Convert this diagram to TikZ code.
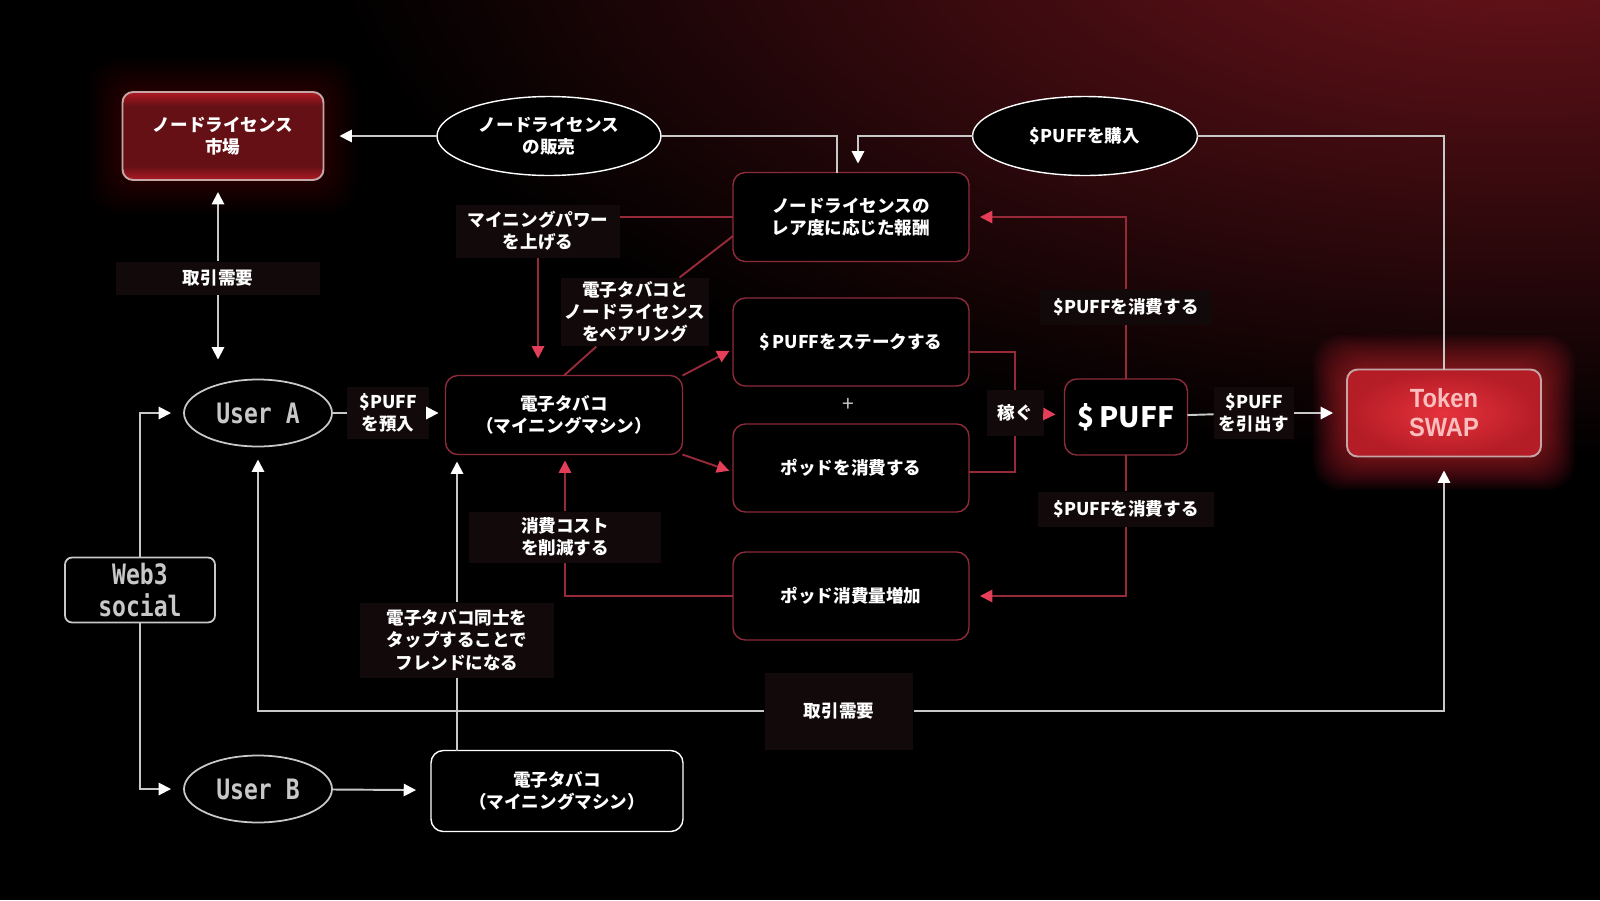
\documentclass[tikz,border=0pt]{standalone}
\usepackage{fontspec}
\setmainfont{Noto Sans CJK JP}
\newfontfamily\monofont{DejaVu Sans Mono}[FakeStretch=0.82]
\newfontfamily\swapfont{Liberation Sans}[FakeStretch=0.9]
\usetikzlibrary{arrows.meta,shapes.geometric}
\definecolor{boxred}{RGB}{140,44,58}
\definecolor{linered}{RGB}{150,42,56}
\definecolor{tipred}{RGB}{228,62,88}
\definecolor{linegray}{RGB}{200,200,200}
\definecolor{patch}{RGB}{18,9,10}
\definecolor{glowred}{RGB}{112,20,28}
\definecolor{marketred}{RGB}{100,16,20}
\definecolor{marketedge}{RGB}{176,26,36}
\definecolor{swapred}{RGB}{230,50,60}
\definecolor{swapedge}{RGB}{180,28,38}
\definecolor{rimgray}{RGB}{196,166,166}
\definecolor{usergray}{RGB}{200,200,200}
\pgfdeclareverticalshading{marketshade}{100bp}{color(0bp)=(marketedge); color(25bp)=(marketedge);
	color(33bp)=(marketred); color(67bp)=(marketred); color(75bp)=(marketedge); color(100bp)=(marketedge)}

\begin{document}
\begin{tikzpicture}[
	x=0.02cm, y=-0.02cm,
	jpfont/.style={font=\bfseries\fontsize{10}{12.7}\selectfont},
	jpbox/.style={
		jpfont,
		draw=boxred,
		line width=0.8pt,
		rounded corners=7pt,
		fill=black,
		text=white,
		align=center,
		inner sep=0pt,
		outer sep=0pt,
		minimum width=4.72cm,
		minimum height=1.76cm
	},
	oval/.style={
		jpfont,
		ellipse,
		draw=white,
		line width=0.8pt,
		fill=black,
		text=white,
		align=center,
		inner sep=0pt,
		outer sep=0pt,
		minimum width=4.48cm,
		minimum height=1.58cm
	},
	useroval/.style={
		ellipse,
		draw=usergray,
		line width=1pt,
		fill=black,
		text=usergray,
		inner sep=0pt,
		outer sep=0pt,
		minimum width=2.96cm,
		minimum height=1.34cm,
		font=\monofont\bfseries\fontsize{16}{17}\selectfont
	},
	userbox/.style={
		draw=usergray,
		line width=1pt,
		rounded corners=4pt,
		fill=black,
		text=usergray,
		align=center,
		inner sep=0pt,
		outer sep=0pt,
		minimum width=3cm,
		minimum height=1.3cm,
		font=\monofont\bfseries\fontsize{16}{18}\selectfont
	},
	redbox/.style={
		jpfont,
		draw=rimgray,
		line width=1.1pt,
		rounded corners=6pt,
		text=white,
		align=center,
		inner sep=0pt,
		outer sep=0pt
	},
	lbl/.style={
		jpfont,
		fill=patch,
		text=white,
		align=center,
		inner sep=2pt
	},
	wline/.style={draw=linegray, line width=1.1pt},
	rline/.style={draw=linered, line width=1.1pt},
	warrow/.style={wline, -{Triangle[width=7pt,length=7pt,color=white]}},
	rarrow/.style={rline, -{Triangle[width=7pt,length=7pt,color=tipred]}},
	glow/.style={fill=swapred, rounded corners=16pt}
	]
	
	% Background
	\useasboundingbox (0,0) rectangle (1600,900);
	\fill[black] (0,0) rectangle (1600,900);
	\begin{scope}
		\clip (0,0) rectangle (1600,900);
		\shade[inner color=glowred, outer color=black] (1520,-90) ellipse (24cm and 11cm);
	\end{scope}
	
	% Glow of the red boxes
	\foreach \g in {2,4,...,34}{
		\fill[glow, fill opacity=0.012] ({122-\g},{92-\g}) rectangle ({323+\g},{180+\g});
		\fill[glow, fill opacity=0.04] ({1347-\g},{369-\g}) rectangle ({1541+\g},{456+\g});
	}
	
	% Top row
	\node[redbox, minimum width=4.02cm, minimum height=1.76cm, shading=marketshade]
		(market) at (223,136) {ノードライセンス\\市場};
	\node[oval] (sale) at (549,136) {ノードライセンス\\の販売};
	\node[oval, minimum width=4.5cm] (buy) at (1085,136) {\$PUFFを購入};
	
	% Middle column
	\node[jpbox, minimum height=1.78cm] (reward) at (851,217) {ノードライセンスの\\レア度に応じた報酬};
	\node[jpbox] (stake) at (851,342) {\$\hspace{0.15em}PUFFをステークする};
	\node[text=linegray, font=\large] (plus) at (848,405) {+};
	\node[jpbox] (pod) at (851,468) {ポッドを消費する};
	\node[jpbox] (podup) at (851,596) {ポッド消費量増加};
	
	% Mining machines and users
	\node[jpbox, minimum width=4.74cm, minimum height=1.58cm] (vapeA) at (564,415) {電子タバコ\\（マイニングマシン）};
	\node[jpbox, draw=white, minimum width=5.04cm, minimum height=1.62cm] (vapeB) at (557,791) {電子タバコ\\（マイニングマシン）};
	\node[useroval] (userA) at (258,413) {User A};
	\node[useroval] (userB) at (258,789) {User B};
	\node[userbox] (web3) at (140,590) {Web3\\social};
	
	% Token side
	\node[jpbox, minimum width=2.46cm, minimum height=1.52cm, font=\bfseries\fontsize{16}{18}\selectfont]
		(puff) at (1126,417) {\$\hspace{0.15em}PUFF};
	\node[redbox, minimum width=3.88cm, minimum height=1.74cm,
		inner color=swapred, outer color=swapedge, text={rgb,255:red,250;green,190;blue,190},
		font=\swapfont\bfseries\fontsize{15}{16.5}\selectfont]
		(swap) at (1444,413) {Token\\SWAP};
	
	% Labels
	\node[lbl, minimum width=4.08cm, minimum height=0.66cm] (tradeL) at (218,278) {取引需要};
	\node[lbl, minimum width=1.64cm, minimum height=1.04cm] (deposit) at (388,413) {\$PUFF\\を預入};
	\node[lbl, minimum width=3.28cm, minimum height=1.06cm] (power) at (538,231) {マイニングパワー\\を上げる};
	\node[lbl] (pair) at (635,312) {電子タバコと\\ノードライセンス\\をペアリング};
	\node[lbl, minimum width=3.84cm, minimum height=1.02cm] (cost) at (565,537) {消費コスト\\を削減する};
	\node[lbl, minimum width=3.88cm, minimum height=1.5cm] (friend) at (457,640) {電子タバコ同士を\\タップすることで\\フレンドになる};
	\node[lbl, minimum width=2.98cm, minimum height=1.54cm] (tradeB) at (839,711) {取引需要};
	\node[lbl, minimum width=3.46cm, minimum height=0.7cm] (spendU) at (1126,307) {\$PUFFを消費する};
	\node[lbl, minimum width=3.54cm, minimum height=0.7cm] (spendD) at (1126,509) {\$PUFFを消費する};
	\node[lbl, minimum width=1.14cm, minimum height=0.92cm] (earn) at (1015,413) {稼ぐ};
	\node[lbl, minimum width=1.6cm, minimum height=1.04cm] (withdraw) at (1254,413) {\$PUFF\\を引出す};
	
	% White flows
	\draw[warrow, shorten >=0.32cm] (sale) -- (market);
	\draw[wline] (sale.east) -| ([xshift=-0.28cm]reward.north);
	\draw[warrow, shorten >=0.18cm] (buy.west) -| ([xshift=0.14cm]reward.north);
	\draw[wline] (buy.east) -| (swap.north);
	\draw[warrow, shorten >=0.24cm] (tradeL) -- (tradeL |- market.south);
	\draw[warrow, shorten >=0.4cm] (tradeL) -- (tradeL |- userA.north);
	\draw[wline] (userA) -- (deposit);
	\draw[warrow, shorten >=0.14cm] (deposit) -- (deposit -| vapeA.west);
	\draw[warrow, shorten >=0.26cm] (web3.north) |- (userA.west);
	\draw[warrow, shorten >=0.26cm] (web3.south) |- (userB.west);
	\draw[warrow, shorten >=0.3cm] (userB) -- (vapeB);
	\draw[wline] (vapeB.north -| friend) -- (friend);
	\draw[warrow, shorten >=0.14cm] (friend) -- (friend |- vapeA.south);
	\draw[warrow, shorten >=0.26cm] (tradeB) -| (userA.south);
	\draw[warrow, shorten >=0.28cm] (tradeB) -| (swap.south);
	\draw[wline] (puff) -- (withdraw);
	\draw[warrow, shorten >=0.28cm] (withdraw) -- (swap);
	
	% Red flows
	\draw[rline] (reward.west) -- (power.east |- reward.west);
	\draw[rarrow, shorten >=0.34cm] (power) -- (power |- vapeA.north);
	\draw[rline] ([yshift=-0.38cm]reward.west) -- (pair);
	\draw[rline] (pair) -- (vapeA.north);
	\draw[rarrow, shorten >=0.08cm] (vapeA.north east) -- ([yshift=-0.14cm]stake.west);
	\draw[rarrow, shorten >=0.08cm] (vapeA.south east) -- ([yshift=-0.08cm]pod.west);
	\draw[rline] ([yshift=-0.2cm]stake.east) -| (earn);
	\draw[rline] ([yshift=-0.08cm]pod.east) -| (earn);
	\draw[rarrow, shorten >=0.18cm] (earn) -- (puff);
	\draw[rline] (puff) -- (spendU);
	\draw[rarrow, shorten >=0.22cm] (spendU) |- (reward.east);
	\draw[rline] (puff) -- (spendD);
	\draw[rarrow, shorten >=0.22cm] (spendD) |- (podup.east);
	\draw[rline] (podup.west) -| (cost);
	\draw[rarrow, shorten >=0.12cm] (cost) -- (cost |- vapeA.south);
	
\end{tikzpicture}
\end{document}
